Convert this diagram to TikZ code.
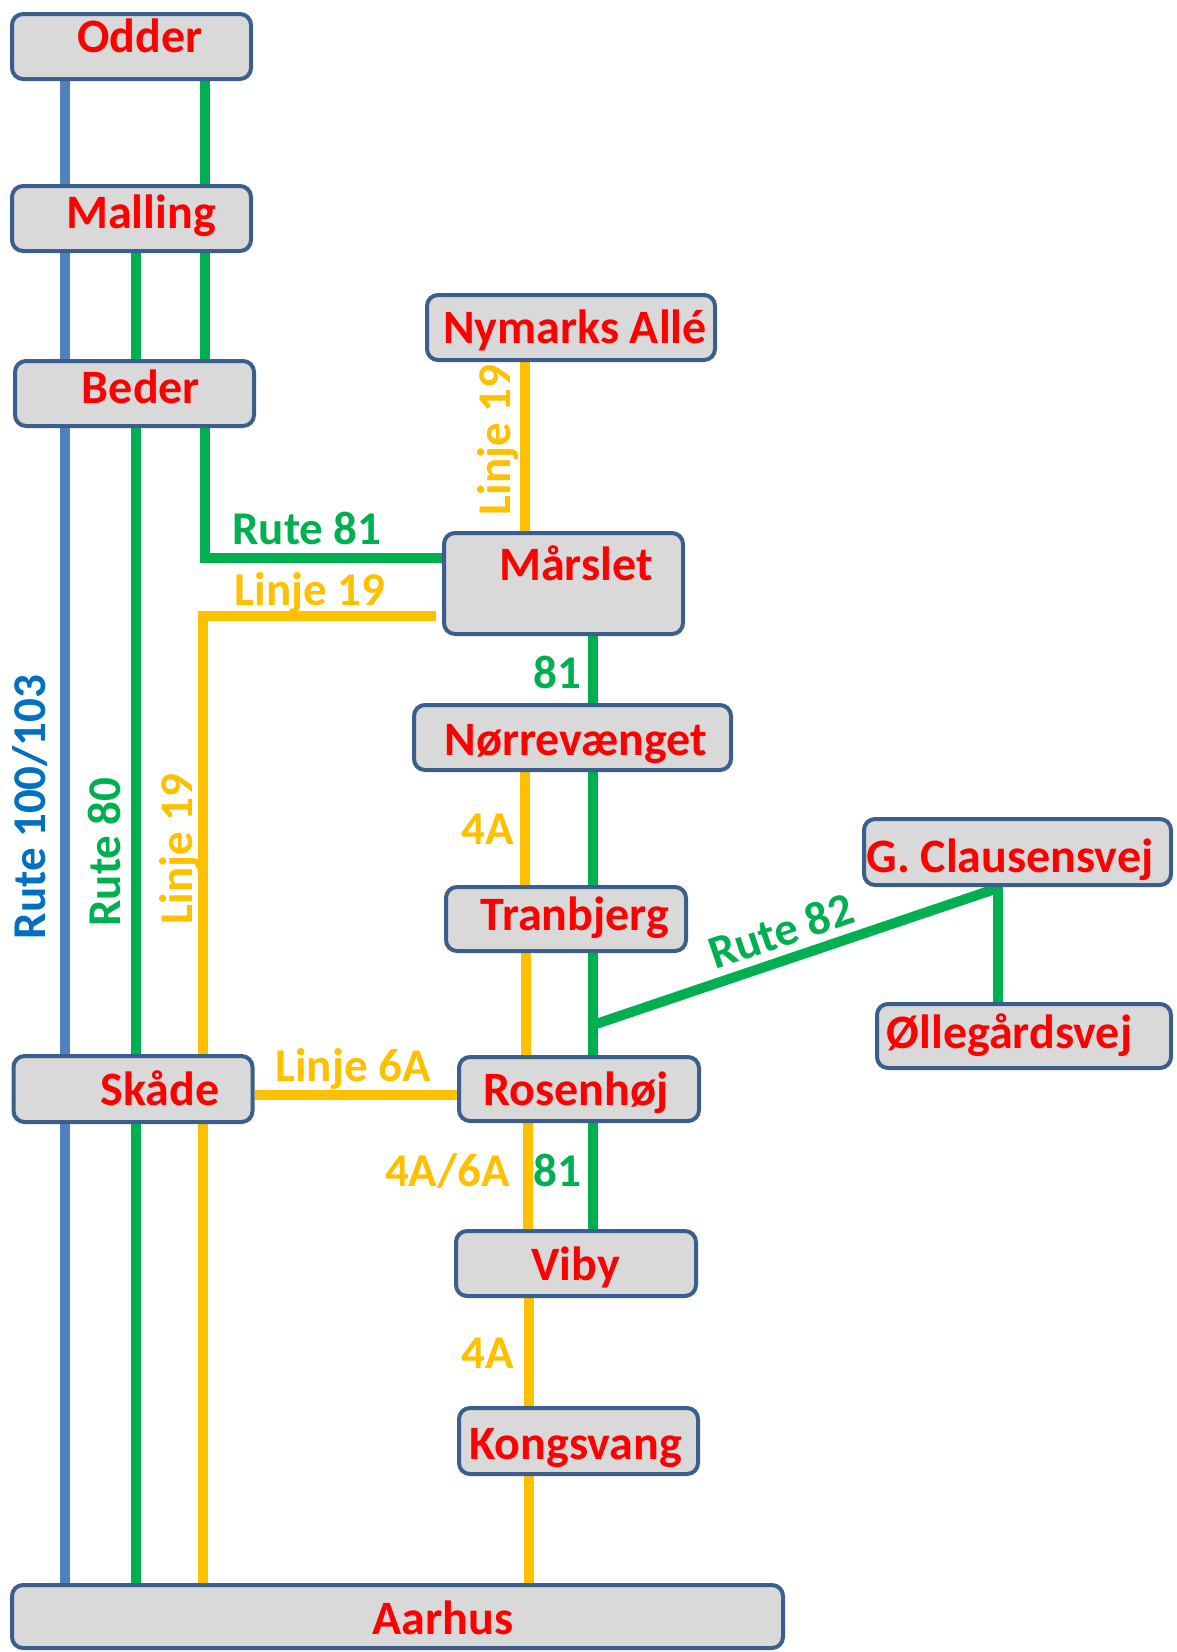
\documentclass[tikz,border=0pt]{standalone}
\usepackage{fontspec}
\setmainfont{Carlito}
\usetikzlibrary{backgrounds}

\definecolor{boxline}{HTML}{3A5F8C}
\definecolor{boxfill}{HTML}{D9D9D9}
\definecolor{routegreen}{HTML}{00B050}
\definecolor{routeyellow}{HTML}{FFC000}
\definecolor{routeblue}{HTML}{4F81BD}
\definecolor{labelblue}{HTML}{0070C0}
\definecolor{stopred}{HTML}{FF0000}

\begin{document}
\begin{tikzpicture}[x=1pt,y=-1pt,
  stopbox/.style={draw=boxline, fill=boxfill, line width=4pt, rounded corners=11pt, inner sep=0pt},
  stopname/.style={text=stopred, font=\bfseries\fontsize{48}{50}\selectfont, inner sep=0pt, anchor=base},
  routelabel/.style={font=\bfseries\fontsize{47}{50}\selectfont, inner sep=0pt, anchor=base},
  track/.style={line width=10pt},
  greentrack/.style={track, draw=routegreen},
  yellowtrack/.style={track, draw=routeyellow},
  bluetrack/.style={track, draw=routeblue}]

\useasboundingbox (0,0) rectangle (1177,1652);

% stop boxes
\node[stopbox, minimum width=239, minimum height=65] (odder)   at (131.5,46.5) {};
\node[stopbox, minimum width=239, minimum height=65] (malling) at (131.5,218.5) {};
\node[stopbox, minimum width=239, minimum height=65] (beder)   at (134.5,393.5) {};
\node[stopbox, minimum width=288, minimum height=65] (nymarks) at (571,327.5) {};
\node[stopbox, minimum width=239, minimum height=101] (marslet) at (563.5,583.5) {};
\node[stopbox, minimum width=317, minimum height=65] (norre)   at (572.5,737.5) {};
\node[stopbox, minimum width=240, minimum height=64] (tranbjerg) at (566,919) {};
\node[stopbox, minimum width=307, minimum height=66] (gclaus)  at (1017.5,852) {};
\node[stopbox, minimum width=294, minimum height=64] (oelle)   at (1024,1036) {};
\node[stopbox, minimum width=239, minimum height=66] (skade)   at (133,1089) {};
\node[stopbox, minimum width=240, minimum height=64] (rosen)   at (579,1089) {};
\node[stopbox, minimum width=240, minimum height=65] (viby)    at (576,1263.5) {};
\node[stopbox, minimum width=239, minimum height=66] (kongs)   at (578.5,1441) {};
\node[stopbox, minimum width=771, minimum height=63] (aarhus)  at (397.5,1616.5) {};

% stop names
\node[stopname] (odder-t)     at (140,52)     {Odder};
\node[stopname] (malling-t)   at (141,228)    {Malling};
\node[stopname] (beder-t)     at (141,403)    {Beder};
\node[stopname] (nymarks-t)   at (575,343)    {Nymarks Allé};
\node[stopname] (marslet-t)   at (576,580)    {Mårslet};
\node[stopname] (norre-t)     at (576,755)    {Nørrevænget};
\node[stopname] (tranbjerg-t) at (575,930)    {Tranbjerg};
\node[stopname] (gclaus-t)    at (1010,872)   {G. Clausensvej};
\node[stopname] (oelle-t)     at (1009.5,1048){Øllegårdsvej};
\node[stopname] (skade-t)     at (160,1105)   {Skåde};
\node[stopname] (rosen-t)     at (576,1105)   {Rosenhøj};
\node[stopname] (viby-t)      at (575.5,1280) {Viby};
\node[stopname] (kongs-t)     at (575.5,1459) {Kongsvang};
\node[stopname] (aarhus-t)    at (443,1634)   {Aarhus};

% bends and junctions
\coordinate (r81bend) at (205,558);
\coordinate (l19bend) at (203,616);
\coordinate (r82foot) at (593,1025);
\coordinate (r82top)  at (998,888);

% routes, drawn behind the boxes
\begin{scope}[on background layer]
  \draw[bluetrack]   (65,0 |- odder.center) -- (65,0 |- aarhus.center);
  \draw[greentrack]  (136,0 |- malling.center) -- (136,0 |- aarhus.center);
  \draw[greentrack]  (205,0 |- odder.center) -- (r81bend) -- (marslet.west |- r81bend);
  \draw[yellowtrack] (aarhus.center -| l19bend) -- (l19bend) -- ([xshift=-6pt]marslet.west |- l19bend);
  \draw[yellowtrack] (skade.east |- 0,1095) -- (rosen.west |- 0,1095);
  \draw[greentrack]  (593,0 |- marslet.center) -- (593,0 |- viby.center);
  \draw[yellowtrack] (525,0 |- nymarks.center) -- (525,0 |- marslet.center);
  \draw[yellowtrack] (525,0 |- norre.center) -- (525,0 |- tranbjerg.center);
  \draw[yellowtrack] (526,0 |- tranbjerg.center) -- (526,0 |- rosen.center);
  \draw[yellowtrack] (527.5,0 |- rosen.center) -- (527.5,0 |- viby.center);
  \draw[yellowtrack] (528.5,0 |- viby.center) -- (528.5,0 |- kongs.center);
  \draw[yellowtrack] (529,0 |- kongs.center) -- (529,0 |- aarhus.center);
  \draw[greentrack]  (r82foot) -- (r82top);
  \draw[greentrack]  (998,0 |- gclaus.center) -- (998,0 |- oelle.center);
\end{scope}

% route labels
\node[routelabel, text=routegreen]  (lbl-r81)  at (307,544)  {Rute 81};
\node[routelabel, text=routeyellow] (lbl-l19h) at (310,605)  {Linje 19};
\node[routelabel, text=routeyellow, rotate=90] (lbl-l19v) at (510,440) {Linje 19};
\node[routelabel, text=labelblue, rotate=90]   (lbl-r100) at (45,807)  {Rute 100/103};
\node[routelabel, text=routegreen, rotate=90]  (lbl-r80)  at (120,852) {Rute 80};
\node[routelabel, text=routeyellow, rotate=90] (lbl-l19l) at (192,849) {Linje 19};
\node[routelabel, text=routegreen]  (lbl-81a)  at (557.5,688)  {81};
\node[routelabel, text=routeyellow] (lbl-4aa)  at (487.5,844)  {4A};
\node[routelabel, text=routeyellow] (lbl-6a)   at (353,1081)   {Linje 6A};
\node[routelabel, text=routeyellow] (lbl-4a6a) at (447.5,1186) {4A/6A};
\node[routelabel, text=routegreen]  (lbl-81b)  at (557.5,1186) {81};
\node[routelabel, text=routeyellow] (lbl-4ab)  at (487.5,1368) {4A};
\node[routelabel, text=routegreen, rotate=18.7] (lbl-r82) at (786,946) {Rute 82};

\end{tikzpicture}
\end{document}
